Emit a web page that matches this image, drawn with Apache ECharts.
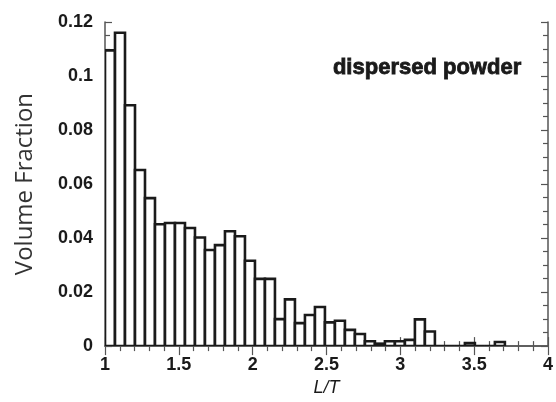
<!DOCTYPE html>
<html>
<head>
<meta charset="utf-8">
<script src="https://cdn.jsdelivr.net/npm/echarts@6/dist/echarts.min.js"></script>
<style>
  html, body { margin: 0; padding: 0; background: #fff; }
  #chart { width: 556px; height: 402px; }
</style>
</head>
<body>
<div id="chart"></div>
<script>
// histogram bins of L/T, left edge of the first bin and bin width
const binStart = 1.0;
const binWidth = 0.0677;
const volumeFraction = [
  0.1095, 0.116, 0.0892, 0.0652, 0.0548, 0.0451, 0.0456, 0.0456, 0.0437, 0.0402,
  0.0356, 0.0374, 0.0425, 0.0407, 0.0316, 0.0249, 0.0249, 0.0100, 0.0173, 0.0085,
  0.0115, 0.0145, 0.0088, 0.0094, 0.0060, 0.0045, 0.0018, 0.0009, 0.0018, 0.0018,
  0.0023, 0.0099, 0.0054, 0, 0, 0, 0.0011, 0, 0, 0.0015
];
const xTicks = [1, 1.5, 2, 2.5, 3, 3.5, 4];
const yTicks = [0, 0.02, 0.04, 0.06, 0.08, 0.1, 0.12];

const bins = volumeFraction.map((v, i) => [binStart + i * binWidth, binStart + (i + 1) * binWidth, v]);

const axisLine = { show: true, lineStyle: { color: '#555', width: 1.5 } };
const tickStyle = { color: '#555', width: 1.2 };
const labelFont = { fontFamily: 'Liberation Sans', fontWeight: 'bold', fontSize: 18, color: '#1a1a1a' };

let chart = echarts.init(document.getElementById('chart'));
const option = {
    animation: false,
    grid: { left: 105, right: 7, top: 22, bottom: 51 },
    title: {
        text: 'dispersed powder',
        right: 34,
        top: 57,
        padding: 0,
        textStyle: {
            fontFamily: 'Liberation Sans', fontWeight: 'bold', fontSize: 22, color: '#1a1a1a',
            textBorderColor: '#1a1a1a', textBorderWidth: 0.8
        }
    },
    xAxis: [
        {
            type: 'value', min: xTicks[0], max: xTicks[xTicks.length - 1], interval: 0.5,
            axisLine,
            axisTick: { inside: true, length: 9, lineStyle: tickStyle },
            minorTick: { show: true, splitNumber: 5, length: 5, lineStyle: tickStyle },
            splitLine: { show: false },
            axisLabel: Object.assign({ margin: 10, formatter: v => String(v) }, labelFont),
            name: 'L/T',
            nameLocation: 'middle',
            nameGap: 31,
            nameTextStyle: { fontFamily: 'Liberation Sans', fontStyle: 'italic', fontSize: 18, color: '#1a1a1a' }
        },
        {
            type: 'value', position: 'top', min: xTicks[0], max: xTicks[xTicks.length - 1], interval: 0.5,
            axisLine,
            axisTick: { inside: true, length: 9, lineStyle: tickStyle },
            minorTick: { show: true, splitNumber: 5, length: 5, lineStyle: tickStyle },
            splitLine: { show: false },
            axisLabel: { show: false }
        }
    ],
    yAxis: [
        {
            type: 'value', min: yTicks[0], max: yTicks[yTicks.length - 1], interval: 0.02,
            axisLine,
            axisTick: { inside: true, length: 7, lineStyle: tickStyle },
            minorTick: { show: true, splitNumber: 4, length: 5, lineStyle: tickStyle },
            splitLine: { show: false },
            axisLabel: Object.assign({ margin: 12, formatter: v => String(v) }, labelFont),
            name: 'Volume Fraction',
            nameLocation: 'middle',
            nameGap: 68,
            nameTextStyle: { fontFamily: 'Open Sans', fontSize: 24, color: '#333' }
        },
        {
            type: 'value', position: 'right', min: yTicks[0], max: yTicks[yTicks.length - 1], interval: 0.02,
            axisLine,
            axisTick: { inside: true, length: 7, lineStyle: tickStyle },
            minorTick: { show: true, splitNumber: 4, length: 5, lineStyle: tickStyle },
            splitLine: { show: false },
            axisLabel: { show: false }
        }
    ],
    series: [
        {
            type: 'custom',
            clip: true,
            renderItem: function (params, api) {
                const p0 = api.coord([api.value(0), api.value(2)]);
                const p1 = api.coord([api.value(1), 0]);
                return {
                    type: 'rect',
                    shape: { x: p0[0], y: p0[1], width: p1[0] - p0[0], height: p1[1] - p0[1] },
                    style: { fill: '#fff', stroke: '#1a1a1a', lineWidth: 2.6 }
                };
            },
            encode: { x: [0, 1], y: 2 },
            data: bins
        }
    ]
};
chart.setOption(option);
</script>
</body>
</html>
